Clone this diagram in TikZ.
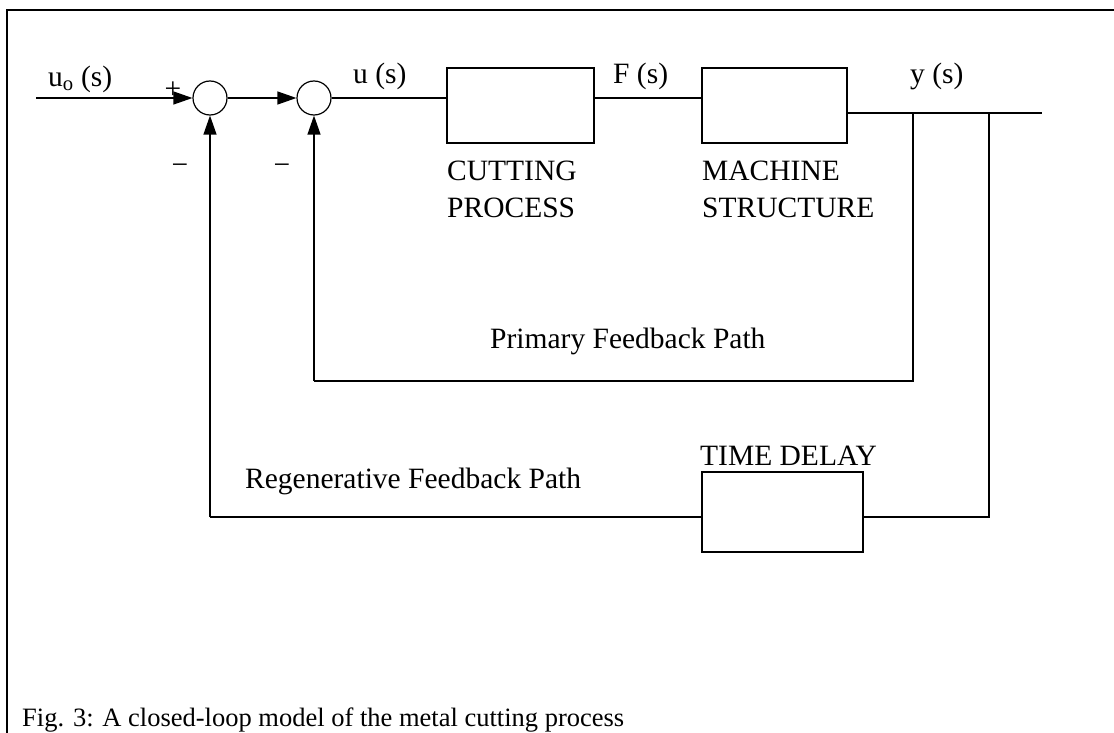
\documentclass[tikz,border=0pt]{standalone}
\usepackage{fontspec}
\setmainfont{Liberation Serif}
\usetikzlibrary{arrows.meta}
\begin{document}
\begin{tikzpicture}[x=1pt,y=-1pt,
  conn/.style={line width=1.2pt},
  arr/.style={conn,-{Triangle[length=19pt,width=13pt]}},
  sumj/.style={circle,draw,line width=1.2pt,minimum size=34pt,inner sep=0pt},
  blockbox/.style={rectangle,draw,line width=1.2pt,inner sep=0pt},
  lbl/.style={inner sep=0pt,anchor=base west,font=\fontsize{29.5pt}{32pt}\selectfont},
  sgn/.style={inner sep=0pt,anchor=base,font=\fontsize{29.5pt}{32pt}\selectfont},
  captext/.style={inner sep=0pt,anchor=base west,font=\fontsize{26.5pt}{30pt}\selectfont}]
\useasboundingbox (0,0) rectangle (1114,733);
\fill[white] (0,0) rectangle (1114,733);
% frame
\draw[line width=2.5pt] (7,733) -- (7,10) -- (1114,10);
% summing junctions
\node[sumj] (c1) at (210,98) {};
\node[sumj] (c2) at (314,98) {};
% blocks
\node[blockbox,minimum width=147pt,minimum height=75pt] (b1) at (520.5,105.5) {};
\node[blockbox,minimum width=145pt,minimum height=75pt] (b2) at (774.5,105.5) {};
\node[blockbox,minimum width=161pt,minimum height=80pt] (td) at (782.5,512) {};
% coordinates
\coordinate (in) at (36,98);
\coordinate (yo) at (1042,113);
\coordinate (t1) at (913,113);
\coordinate (t2) at (989,113);
\coordinate (p1) at (913,381);
\coordinate (r1) at (989,517);
% forward path
\draw[arr] (in) -- (c1.west);
\draw[arr] (c1.east) -- (c2.west);
\draw[conn] (c2.east) -- (c2.east -| b1.west);
\draw[conn] (b1.east |- c2.east) -- (b2.west |- c2.east);
\draw[conn] (b2.east |- yo) -- (yo);
% primary feedback
\draw[conn] (t1) -- (p1) -- (p1 -| c2.south);
\draw[arr] (p1 -| c2.south) -- (c2.south);
% regenerative feedback
\draw[conn] (t2) -- (r1) -- (r1 -| td.east);
\draw[conn] (td.west |- r1) -- (r1 -| c1.south);
\draw[arr] (r1 -| c1.south) -- (c1.south);
% labels
\node[lbl] (luo) at (48,87) {u\textsubscript{o} (s)};
\node[sgn] (lplus) at (173,99) {+};
\node[sgn] (lm1) at (180,175) {−};
\node[sgn] (lm2) at (282,175) {−};
\node[lbl] (lu) at (353,84) {u (s)};
\node[lbl] (lf) at (613,84) {F (s)};
\node[lbl] (ly) at (910,84) {y (s)};
\node[lbl] (lc1) at (447,180) {CUTTING};
\node[lbl] (lc2) at (447,217) {PROCESS};
\node[lbl] (lm1t) at (702,180) {MACHINE};
\node[lbl] (lm2t) at (702,217) {STRUCTURE};
\node[lbl] (lpf) at (490,348) {Primary Feedback Path};
\node[lbl] (ltd) at (700,465) {TIME DELAY};
\node[lbl] (lrf) at (245,488) {Regenerative Feedback Path};
\node[captext] (lcap) at (22,726) {Fig. 3: A closed-loop model of the metal cutting process};
\end{tikzpicture}
\end{document}
